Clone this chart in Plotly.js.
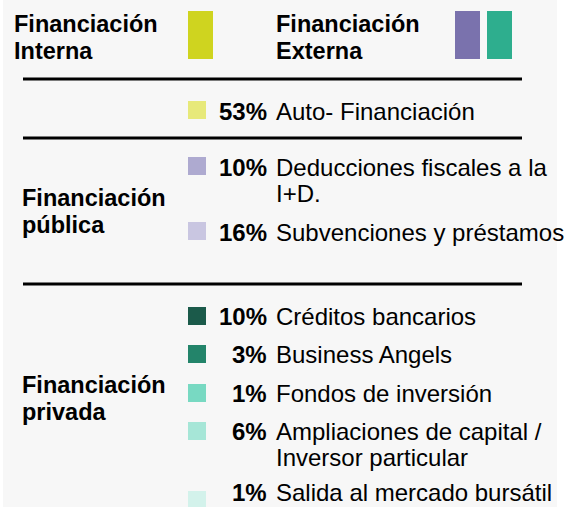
<!DOCTYPE html>
<html>
<head>
<meta charset="utf-8">
<script src="https://cdn.plot.ly/plotly-3.0.1.min.js"></script>
<style>html,body{margin:0;padding:0;background:#fff;}#chart{width:566px;height:507px;}</style>
</head>
<body>
<div id="chart"></div>
<script>
// ---- data ----
const headerLabels = ["Financiación<br>Interna", "Financiación<br>Externa"];
const sectionLabels = ["Financiación<br>pública", "Financiación<br>privada"];
const sources = [
  "Auto- Financiación",
  "Deducciones fiscales a la<br>I+D.",
  "Subvenciones y préstamos",
  "Créditos bancarios",
  "Business Angels",
  "Fondos de inversión",
  "Ampliaciones de capital /<br>Inversor particular",
  "Salida al mercado bursátil"
];
const shares = [53, 10, 16, 10, 3, 1, 6, 1];

// ---- styles / layout constants ----
const swatchColors = ["#e7e97a", "#aeaad0", "#c9c6e1", "#1b5a4a", "#23846a", "#78d9c2", "#a6e6d7", "#d3f2eb"];
const headerColors = [["#cfd41f"], ["#7a72ad", "#2eae8e"]];
const rowY = [110, 166, 231, 316, 354, 393, 431, 500];
const textY = [111, 167, 232, 316, 354, 393, 431, 492];
const headerX = [13, 275];
const headerBarX = [[188], [455, 487]];
const sectionY = [198, 385];
const ruleY = [79, 138, 284];
const lineGap = 26.5;
const FONT = "Liberation Sans, Arial, sans-serif";
const FS = 24;

const annotations = [];
const shapes = [];

// background panel
shapes.push({type: "rect", xref: "x", yref: "y", x0: 3, x1: 557, y0: 0, y1: 507,
  fillcolor: "#f7f7f7", line: {width: 0}, layer: "below"});

// header labels and bars
headerLabels.forEach((lab, i) => {
  lab.split("<br>").forEach((ln, k) => {
    annotations.push({x: headerX[i], y: 24 + k * lineGap, xref: "x", yref: "y", text: "<b>" + ln + "</b>",
      showarrow: false, xanchor: "left", yanchor: "middle", borderpad: 0,
      font: {family: FONT, size: 23.5, color: "#000"}});
  });
  headerBarX[i].forEach((bx, j) => {
    shapes.push({type: "rect", xref: "x", yref: "y", x0: bx, x1: bx + 25, y0: 11, y1: 59,
      fillcolor: headerColors[i][j], line: {width: 0}});
  });
});

// rules
ruleY.forEach(y => shapes.push({type: "line", xref: "x", yref: "y", x0: 23, x1: 522, y0: y, y1: y,
  line: {color: "#000", width: 3}}));

// section labels
sectionLabels.forEach((lab, i) => {
  lab.split("<br>").forEach((ln, k) => {
    annotations.push({x: 21, y: sectionY[i] + k * lineGap, xref: "x", yref: "y", text: "<b>" + ln + "</b>",
      showarrow: false, xanchor: "left", yanchor: "middle", borderpad: 0,
      font: {family: FONT, size: 23.5, color: "#000"}});
  });
});

// row texts
sources.forEach((src, i) => {
  annotations.push({x: 268, y: textY[i], xref: "x", yref: "y", text: "<b>" + shares[i] + "%</b>",
    showarrow: false, xanchor: "right", yanchor: "middle", borderpad: 0,
    font: {family: FONT, size: FS, color: "#000"}});
  src.split("<br>").forEach((ln, k) => {
    annotations.push({x: 275, y: textY[i] + k * lineGap, xref: "x", yref: "y", text: ln,
      showarrow: false, xanchor: "left", yanchor: "middle", borderpad: 0,
      font: {family: FONT, size: FS, color: "#000"}});
  });
});

const trace = {
  type: "scatter", mode: "markers",
  x: sources.map(() => 197), y: rowY,
  marker: {symbol: "square", size: 18, color: swatchColors, line: {width: 0}},
  hoverinfo: "skip", cliponaxis: false
};

const layout = {
  width: 566, height: 507,
  margin: {l: 0, r: 0, t: 0, b: 0},
  paper_bgcolor: "#ffffff", plot_bgcolor: "rgba(0,0,0,0)",
  xaxis: {range: [0, 566], visible: false, fixedrange: true},
  yaxis: {range: [507, 0], visible: false, fixedrange: true},
  showlegend: false,
  shapes: shapes,
  annotations: annotations
};

Plotly.newPlot("chart", [trace], layout, {displayModeBar: false, staticPlot: true});
</script>
</body>
</html>
